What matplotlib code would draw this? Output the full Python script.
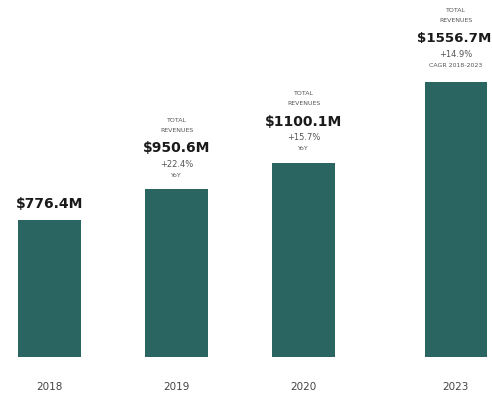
import matplotlib
matplotlib.use("Agg")
from matplotlib import pyplot as plt

years = ["2018", "2019", "2020", "2023"]
revenues = [776.4, 950.6, 1100.1, 1556.7]
growth = [None, "+22.4%", "+15.7%", "+14.9%"]
growth_note = [None, "YoY", "YoY", "CAGR 2018-2023"]

# 2023 sits a little further out because years are skipped
positions = [0, 1, 2, 3.2]

BAR_COLOR = "#2a6562"
TEXT_COLOR = "#1a1a1a"
SMALL_COLOR = "#555555"

fig = plt.figure(figsize=(4.92, 4.0), dpi=100)
ax = fig.add_axes([0, 43 / 400, 1, 357 / 400])

ax.bar(positions, revenues, width=0.49, color=BAR_COLOR)
ax.set_xlim(-0.39, 3.484)
ax.set_ylim(0, 2023)

for x, value, g, note in zip(positions, revenues, growth, growth_note):
    label = f"${value:.1f}M"
    if g is None:
        ax.annotate(label, (x, value), xytext=(0, 16), textcoords="offset pixels",
                    ha="center", va="center", fontsize=10, fontweight="bold",
                    color=TEXT_COLOR)
        continue
    wide = note != "YoY"
    off = 3 if wide else 0
    ax.annotate(note, (x, value), xytext=(0, 14 + off), textcoords="offset pixels",
                ha="center", va="center", fontsize=4.5, color=SMALL_COLOR)
    ax.annotate(g, (x, value), xytext=(0, 25 + off), textcoords="offset pixels",
                ha="center", va="center", fontsize=6, color=SMALL_COLOR)
    ax.annotate(label, (x, value), xytext=(-2 if wide else 0, 41 + off),
                textcoords="offset pixels", ha="center", va="center",
                fontsize=9.6 if wide else 10, fontweight="bold", color=TEXT_COLOR)
    ax.annotate("REVENUES", (x, value), xytext=(0, 59 + off), textcoords="offset pixels",
                ha="center", va="center", fontsize=4.5, color=SMALL_COLOR)
    ax.annotate("TOTAL", (x, value), xytext=(0, 69 + off), textcoords="offset pixels",
                ha="center", va="center", fontsize=4.5, color=SMALL_COLOR)

ax.set_xticks(positions)
ax.set_xticklabels(years, fontsize=7.5, color="#444444")
ax.tick_params(axis="x", length=0, pad=18)
ax.set_yticks([])
for spine in ax.spines.values():
    spine.set_visible(False)

fig.savefig("out.png", dpi=100, facecolor="white")
